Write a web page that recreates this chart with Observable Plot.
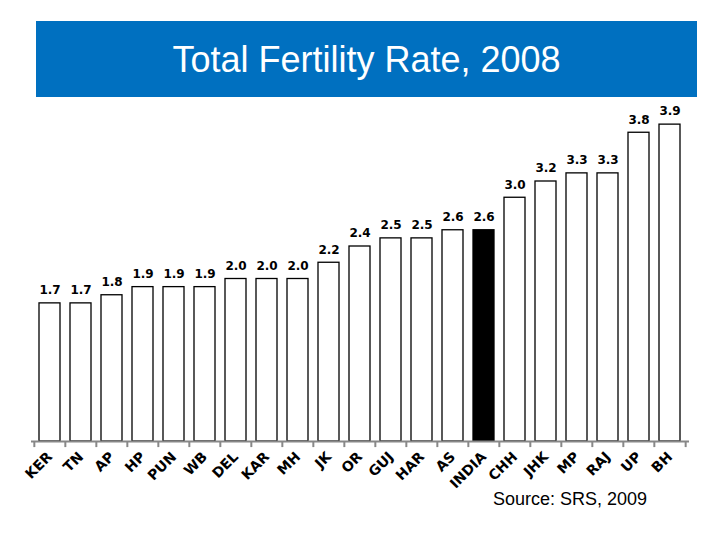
<!DOCTYPE html>
<html>
<head>
<meta charset="utf-8">
<script src="https://cdn.jsdelivr.net/npm/d3@7"></script>
<script src="https://cdn.jsdelivr.net/npm/@observablehq/plot@0.6"></script>
<style>
  html, body { margin: 0; padding: 0; background: #fff; width: 720px; height: 540px; overflow: hidden; }
  #banner {
    margin: 21px 0 0 36px; width: 661px; height: 76px; background: #0070C0;
    color: #fff; font-family: "Liberation Sans", Arial, sans-serif; font-size: 36px;
    display: flex; align-items: center; justify-content: center; box-sizing: border-box; padding-top: 2px;
  }
  #chart svg { display: block; }
  #caption {
    margin-top: -2px; padding-left: 493px; font-family: "Liberation Sans", Arial, sans-serif;
    font-size: 18px; line-height: 20px; color: #000;
  }
</style>
</head>
<body>
<div id="banner">Total Fertility Rate, 2008</div>
<div id="chart"></div>
<div id="caption">Source: SRS, 2009</div>
<script>
const states = ["KER","TN","AP","HP","PUN","WB","DEL","KAR","MH","JK","OR","GUJ","HAR","AS","INDIA","CHH","JHK","MP","RAJ","UP","BH"];
const tfr = [1.7,1.7,1.8,1.9,1.9,1.9,2.0,2.0,2.0,2.2,2.4,2.5,2.5,2.6,2.6,3.0,3.2,3.3,3.3,3.8,3.9];
const highlight = "INDIA";

const data = states.map((s, i) => ({state: s, tfr: tfr[i]}));
const W = 720, mL = 31, mR = 31;
const step = (W - mL - mR) / states.length;
const font = "'DejaVu Sans', Verdana, sans-serif";

const chart = Plot.plot({
  width: W,
  height: 394,
  marginTop: 19,
  marginLeft: mL,
  marginRight: mR,
  marginBottom: 50,
  style: {background: "white", overflow: "visible"},
  x: {domain: states, paddingInner: 0.31, paddingOuter: 0.155, axis: null},
  y: {domain: [0, 4], axis: null},
  color: {type: "identity"},
  marks: [
    Plot.barY(data, {x: "state", y: "tfr", fill: d => d.state === highlight ? "black" : "white", stroke: "black", strokeWidth: 1.3}),
    Plot.text(data, {x: "state", y: "tfr", text: d => d.tfr.toFixed(1), dy: -13, fontWeight: "bold", fontSize: 12, fontFamily: font, fill: "black"}),
    Plot.ruleY([0], {stroke: "#888", strokeWidth: 2}),
    Plot.ruleX(states, {x: d => d, y1: 0, y2: -0.075, dx: -step / 2, stroke: "#888", strokeWidth: 2}),
    Plot.ruleX([states[states.length - 1]], {x: d => d, y1: 0, y2: -0.075, dx: step / 2, stroke: "#888", strokeWidth: 2}),
    Plot.axisX({tickSize: 0, tickPadding: 13, tickRotate: -45, fontWeight: "bold", fontSize: 14, fontFamily: font, color: "black", label: null})
  ]
});
document.getElementById("chart").appendChild(chart);
</script>
</body>
</html>
